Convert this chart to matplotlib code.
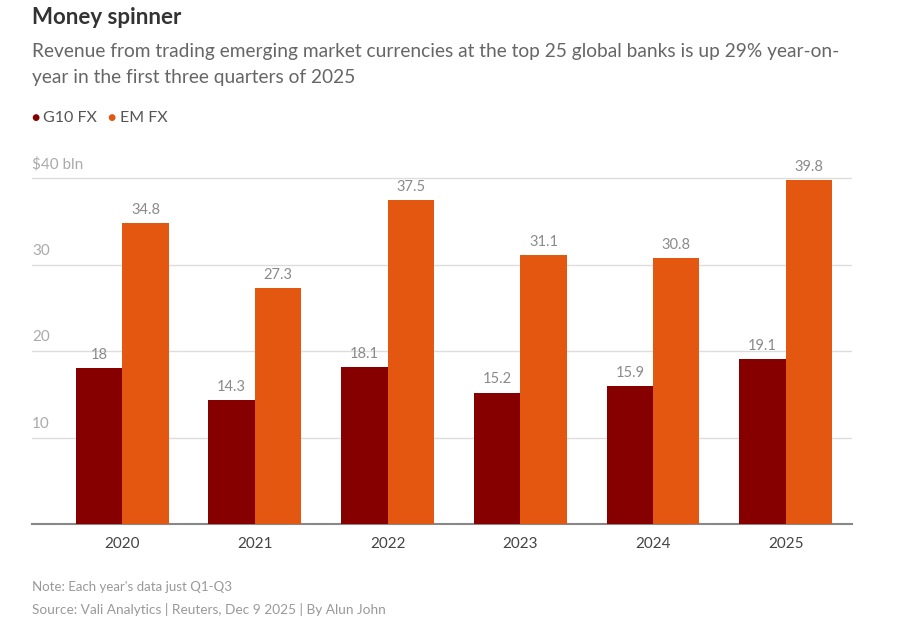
import matplotlib
matplotlib.use("Agg")
import matplotlib.pyplot as plt
import numpy as np

years = ["2020", "2021", "2022", "2023", "2024", "2025"]
g10_fx = [18, 14.3, 18.1, 15.2, 15.9, 19.1]
em_fx = [34.8, 27.3, 37.5, 31.1, 30.8, 39.8]
y_ticks = [10, 20, 30, 40]
y_tick_labels = ["10", "20", "30", "$40 bln"]

C_G10 = "#870000"
C_EM = "#E35710"
C_TEXT = "#8a8a8a"
C_DARK = "#333333"
FONT = "Lato"

plt.rcParams['font.family'] = [FONT, 'DejaVu Sans']

fig = plt.figure(figsize=(9, 6.25), dpi=100)
fig.patch.set_facecolor("white")

ymax = 41
ax = fig.add_axes([32/900, 1-524/625, (852-32)/900, (524-169.35)/625])
x = np.arange(len(years))
w = 0.35
ax.bar(x - w/2, g10_fx, w, color=C_G10, zorder=3)
ax.bar(x + w/2, em_fx, w, color=C_EM, zorder=3)

for xi, v in zip(x, g10_fx):
    ax.text(xi - w/2, v + 0.7, f"{v:g}", ha="center", va="bottom", color=C_TEXT, fontsize=10.5)
for xi, v in zip(x, em_fx):
    ax.text(xi + w/2, v + 0.7, f"{v:g}", ha="center", va="bottom", color=C_TEXT, fontsize=10.5)

ax.set_xlim(-0.68, 5.5)
ax.set_ylim(0, ymax)
for t in y_ticks:
    ax.axhline(t, color="#dddddd", lw=1, zorder=1)
for t, lab in zip(y_ticks, y_tick_labels):
    ax.text(-0.68, t + 0.8, lab, ha="left", va="bottom", color="#aaaaaa", fontsize=11)
ax.set_yticks([])
ax.set_xticks(x)
ax.set_xticklabels(years, color="#444444", fontsize=11)
ax.tick_params(axis="x", length=0, pad=9)
for s in ["top", "right", "left"]:
    ax.spines[s].set_visible(False)
ax.spines["bottom"].set_color("#888888")
ax.spines["bottom"].set_linewidth(1.5)

fig.text(32/900, 1-18/625, "Money spinner", fontsize=16, fontweight="bold", color=C_DARK, va="center", ha="left")
fig.text(32/900, 1-52/625, "Revenue from trading emerging market currencies at the top 25 global banks is up 29% year-on-",
         fontsize=13.8, color="#666666", va="center", ha="left")
fig.text(32/900, 1-77/625, "year in the first three quarters of 2025",
         fontsize=13.8, color="#666666", va="center", ha="left")

fig.text(31/900, 1-118/625, "●", fontsize=10, color=C_G10, va="center", ha="left")
fig.text(43/900, 1-118/625, "G10 FX", fontsize=11.5, color="#555555", va="center", ha="left")
fig.text(107/900, 1-118/625, "●", fontsize=10, color=C_EM, va="center", ha="left")
fig.text(120/900, 1-118/625, "EM FX", fontsize=11.5, color="#555555", va="center", ha="left")

fig.text(32/900, 1-587/625, "Note: Each year's data just Q1-Q3", fontsize=9.5, color="#999999", va="center", ha="left")
fig.text(32/900, 1-610/625, "Source: Vali Analytics | Reuters, Dec 9 2025 | By Alun John", fontsize=9.8, color="#999999", va="center", ha="left")

fig.savefig("out.png", dpi=100, facecolor="white")
